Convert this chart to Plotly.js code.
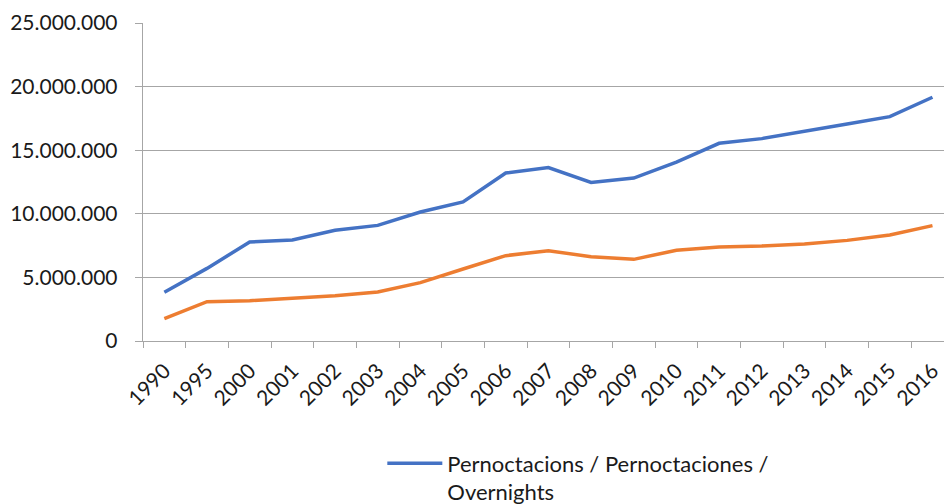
<!DOCTYPE html>
<html>
<head>
<meta charset="utf-8">
<script src="https://cdn.plot.ly/plotly-3.0.1.min.js"></script>
<style>html,body{margin:0;padding:0;background:#fff;}#chart{width:944px;height:504px;}</style>
</head>
<body>
<div id="chart"></div>
<script>
const years = ["1990","1995","2000","2001","2002","2003","2004","2005","2006","2007","2008","2009","2010","2011","2012","2013","2014","2015","2016"];
const overnights = [3830000,5710000,7780000,7940000,8700000,9090000,10140000,10930000,13210000,13630000,12470000,12810000,14070000,15540000,15910000,16460000,17060000,17640000,19160000];
const travellers = [1760000,3090000,3170000,3350000,3560000,3850000,4590000,5660000,6710000,7100000,6630000,6420000,7130000,7390000,7470000,7630000,7910000,8330000,9070000];
const yTicks = [0,5000000,10000000,15000000,20000000,25000000];
const nameOvernights = "Pernoctacions / Pernoctaciones /<br>Overnights";
const nameTravellers = "Viatgers / Viajeros / Travellers";

const traces = [
  {x: years, y: overnights, type: "scatter", mode: "lines", name: nameOvernights,
   line: {color: "#4472C4", width: 3.5}, showlegend: true},
  {x: years, y: travellers, type: "scatter", mode: "lines", name: nameTravellers,
   line: {color: "#ED7D31", width: 3.5}, showlegend: false}
];

const layout = {
  width: 944, height: 504,
  margin: {l: 143, r: 0, t: 23, b: 163},
  paper_bgcolor: "#fff", plot_bgcolor: "#fff",
  separators: ",.",
  font: {family: "Lato, 'Open Sans', sans-serif", size: 21, color: "#1a1a1a"},
  showlegend: true,
  legend: {orientation: "h", xref: "container", yref: "container",
           x: 0.405, xanchor: "left", y: 0.122, yanchor: "top",
           valign: "top", itemwidth: 55,
           font: {size: 22, color: "#1a1a1a"}, bgcolor: "rgba(0,0,0,0)"},
  xaxis: {type: "category", categoryarray: years, range: [-0.5, 18.27],
          tickangle: -45, tickson: "boundaries", ticks: "outside", ticklen: 6,
          tickcolor: "#a6a6a6", showline: true, linecolor: "#a6a6a6", linewidth: 1.3,
          showgrid: false, zeroline: false, fixedrange: true, automargin: false,
          ticklabelstandoff: 8},
  yaxis: {range: [0, 25000000], tickvals: yTicks, tickformat: ",d",
          ticks: "outside", ticklen: 7, tickcolor: "#a6a6a6",
          showline: true, linecolor: "#a6a6a6", linewidth: 1.3,
          showgrid: true, gridcolor: "#a6a6a6", gridwidth: 1.3,
          zeroline: false, ticklabelstandoff: 13, fixedrange: true, automargin: false}
};

Plotly.newPlot("chart", traces, layout, {displayModeBar: false, staticPlot: true});
</script>
</body>
</html>
